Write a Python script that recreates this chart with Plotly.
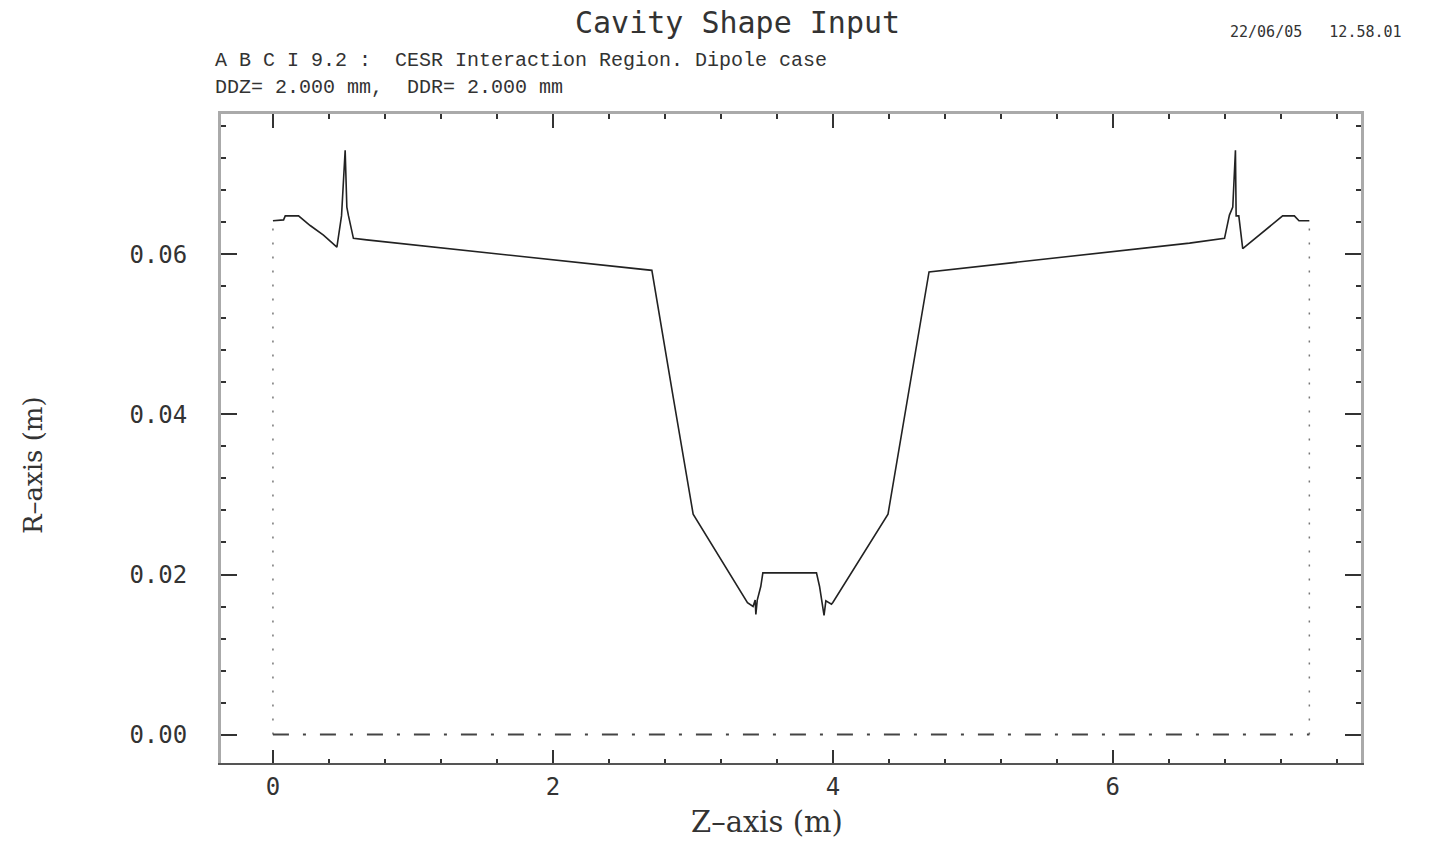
import plotly.graph_objects as go

# ---- data ----
z_profile = [0.0, 0.076, 0.088, 0.183, 0.266, 0.361, 0.457, 0.49, 0.516, 0.528, 0.54, 0.575,
             0.67, 1.6, 2.707, 2.86, 3.002, 3.39, 3.43, 3.445, 3.45, 3.46, 3.485, 3.50,
             3.883, 3.905, 3.919, 3.937, 3.95, 3.99, 4.0, 4.394, 4.687, 6.548, 6.798,
             6.833, 6.857, 6.876, 6.881, 6.90, 6.928, 7.213, 7.297, 7.33, 7.404]
r_profile = [0.0642, 0.0643, 0.0648, 0.0648, 0.0636, 0.0624, 0.0609, 0.0648, 0.0730, 0.0659,
             0.0648, 0.0620, 0.0618, 0.0601, 0.0580, 0.0421, 0.02754, 0.01648, 0.0160, 0.0168,
             0.0150, 0.0168, 0.0185, 0.0202, 0.0202, 0.0185, 0.0167, 0.0149, 0.0167, 0.0163,
             0.0165, 0.02754, 0.0578, 0.0614, 0.0620, 0.0649, 0.0659, 0.0730, 0.0648, 0.0648,
             0.0607, 0.0648, 0.0648, 0.0642, 0.0642]

wall_z = [0.0, 0.0, None, 7.404, 7.404]
wall_r = [0.0, 0.0642, None, 0.0, 0.0642]

axis_z = [0.0, 7.404]
axis_r = [0.0, 0.0]

x_range = [-0.371, 7.773]
y_range = [-0.00355, 0.07753]

title_text = "Cavity Shape Input"
date_text = "22/06/05   12.58.01"
sub1_text = "A B C I 9.2 :  CESR Interaction Region. Dipole case"
sub2_text = "DDZ= 2.000 mm,  DDR= 2.000 mm"
xtitle_text = "Z\u2013axis (m)"
ytitle_text = "R\u2013axis (m)"

W, H = 1431, 843
L, R, T, B = 221, 1361, 114, 763

def px(xp):
    return (xp - L) / (R - L)

def py(yp):
    return (B - yp) / (B - T)

fig = go.Figure()
fig.add_trace(go.Scatter(x=wall_z, y=wall_r, mode="lines",
                         line=dict(color="#777", width=1.5, dash="2px,12px"),
                         hoverinfo="skip", showlegend=False))
fig.add_trace(go.Scatter(x=axis_z, y=axis_r, mode="lines",
                         line=dict(color="#444", width=2, dash="16px,14px,3px,14px"),
                         hoverinfo="skip", showlegend=False))
fig.add_trace(go.Scatter(x=z_profile, y=r_profile, mode="lines",
                         line=dict(color="#222", width=1.6),
                         showlegend=False))
fig.add_trace(go.Scatter(x=[None], y=[None], xaxis="x2", mode="lines",
                         hoverinfo="skip", showlegend=False))

tickc = "#333"
fig.update_layout(
    width=W, height=H,
    margin=dict(l=L, r=W - R, t=T, b=H - B, pad=0),
    paper_bgcolor="white", plot_bgcolor="white",
    xaxis=dict(range=x_range, showline=True, linecolor="#555", linewidth=2,
               ticks="inside", ticklen=13, tickwidth=2, tickcolor=tickc,
               tick0=0, dtick=2, showgrid=False, zeroline=False,
               tickfont=dict(family="DejaVu Sans Mono", size=24, color="#333"),
               ticklabelstandoff=1,
               minor=dict(dtick=0.4, tick0=0, ticks="inside", ticklen=4,
                          tickwidth=1.5, tickcolor=tickc, showgrid=False)),
    xaxis2=dict(range=x_range, overlaying="x", side="top", anchor="y",
                showline=True, linecolor="#aaa", linewidth=3,
                ticks="inside", ticklen=14, tickwidth=2, tickcolor=tickc,
                tick0=0, dtick=2, showgrid=False, zeroline=False,
                showticklabels=False,
                minor=dict(dtick=0.4, tick0=0, ticks="inside", ticklen=5,
                           tickwidth=1.5, tickcolor=tickc, showgrid=False)),
    yaxis=dict(range=y_range, showline=True, linecolor="#aaa", linewidth=3,
               mirror="ticks", ticks="inside", ticklen=16, tickwidth=2,
               tickcolor=tickc, tick0=0, dtick=0.02, tickformat=".2f",
               showgrid=False, zeroline=False,
               tickfont=dict(family="DejaVu Sans Mono", size=24, color="#333"),
               ticklabelstandoff=26,
               minor=dict(dtick=0.004, tick0=0, ticks="inside", ticklen=5,
                          tickwidth=1.5, tickcolor=tickc, showgrid=False)),
)

ann = [
    dict(text=title_text, x=px(737), y=py(22), xanchor="center", yanchor="middle",
         font=dict(family="DejaVu Sans Mono", size=30, color="#333")),
    dict(text=date_text, x=px(1228), y=py(32), xanchor="left", yanchor="middle",
         font=dict(family="DejaVu Sans Mono", size=15, color="#333")),
    dict(text=sub1_text, x=px(213), y=py(60), xanchor="left", yanchor="middle",
         font=dict(family="Liberation Mono", size=20, color="#333")),
    dict(text=sub2_text, x=px(213), y=py(88), xanchor="left", yanchor="middle",
         font=dict(family="Liberation Mono", size=20, color="#333")),
    dict(text=ytitle_text, x=px(33), y=py(465), xanchor="center", yanchor="middle",
         textangle=-90, font=dict(family="DejaVu Serif", size=26, color="#333")),
    dict(text=xtitle_text, x=px(767), y=py(822), xanchor="center", yanchor="middle",
         font=dict(family="DejaVu Serif", size=29, color="#333")),
]
for a in ann:
    a.update(xref="paper", yref="paper", showarrow=False)
fig.update_layout(annotations=ann)

fig.write_html("out.html")
